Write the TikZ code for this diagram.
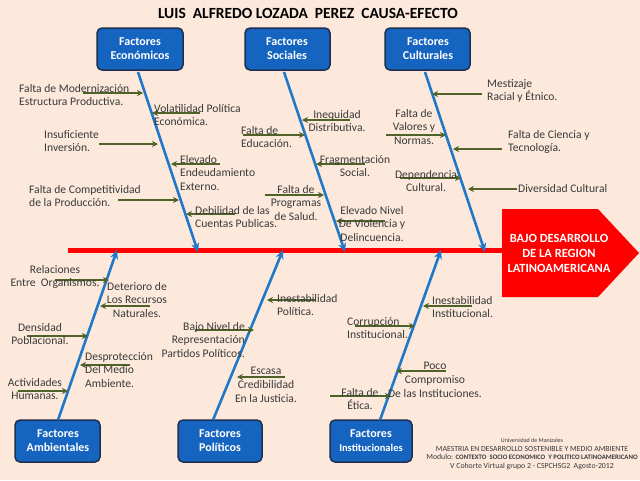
\documentclass[tikz,border=0pt]{standalone}
\usepackage{fontspec}
\setmainfont{Carlito}
\usetikzlibrary{arrows.meta}
\definecolor{bg}{HTML}{FCE9DC}
\definecolor{boxblue}{HTML}{1565C0}
\definecolor{boxedge}{HTML}{1F2F4F}
\definecolor{bone}{HTML}{1F78C8}
\definecolor{cause}{HTML}{4F6228}
\definecolor{txt}{HTML}{3A3A3A}
\tikzset{
  catbox/.style={draw=boxedge,line width=1.5pt,fill=boxblue,rounded corners=5pt},
  cattext/.style={text=white,font=\bfseries\fontsize{12}{14}\selectfont,align=center,inner sep=0},
  bonearrow/.style={draw=bone,line width=2.6pt,-{Stealth[length=9pt,width=8pt]}},
  causearrow/.style={draw=cause,line width=1.8pt,-{Stealth[length=6pt,width=6pt]}},
  lbl/.style={text=txt,font=\fontsize{11.6}{13.8}\selectfont,inner sep=0},
}
\newcommand{\causeline}[4]{\coordinate (#1s) at (#2,#4); \coordinate (#1e) at (#3,#4); \draw[causearrow] (#1s) -- (#1e);}
\begin{document}
\begin{tikzpicture}[x=1pt,y=-1pt]
\fill[bg] (0,0) rectangle (640,480);
\useasboundingbox (0,0) rectangle (640,480);
\node (title) at (308,13) {\bfseries\fontsize{15.5}{17}\selectfont LUIS\ \ ALFREDO LOZADA\ \ PEREZ\ \ CAUSA-EFECTO};
% spine
\coordinate (sp1) at (68,250);
\coordinate (sp2) at (502,250);
\draw[red,line width=5pt] (sp1) -- (sp2);
\fill[red] (502,209) -- (598,209) -- (639,253) -- (598,297) -- (502,297) -- cycle;
\node[text=white,font=\bfseries\fontsize{12.5}{15}\selectfont,align=center,inner sep=0] (effect) at (559,253) {BAJO DESARROLLO\\DE LA REGION\\LATINOAMERICANA};
% boxes
\draw[catbox] (97,28) rectangle (183,70); \node[cattext] (eco) at (140,49) {Factores\\Económicos};
\draw[catbox] (245,28) rectangle (330,70); \node[cattext] (soc) at (287,49) {Factores\\Sociales};
\draw[catbox] (385,28) rectangle (470,70); \node[cattext] (cul) at (428,49) {Factores\\Culturales};
\draw[catbox] (15,420) rectangle (100,462); \node[cattext] (amb) at (58,441) {Factores\\Ambientales};
\draw[catbox] (178,420) rectangle (262,462); \node[cattext] (pol) at (220,441) {Factores\\Políticos};
\draw[catbox] (330,420) rectangle (412,462); \node[cattext] (ins) at (371,441) {Factores\\{\fontsize{10.5}{12}\selectfont Institucionales}};
% bones
\coordinate (b1s) at (138,72); \coordinate (b1e) at (198,252);
\coordinate (b2s) at (284,72); \coordinate (b2e) at (345,252);
\coordinate (b3s) at (425,72); \coordinate (b3e) at (485,252);
\coordinate (b4s) at (58,420); \coordinate (b4e) at (117,250);
\coordinate (b5s) at (213,420); \coordinate (b5e) at (283,250);
\coordinate (b6s) at (380,420); \coordinate (b6e) at (441,250);
\foreach \i in {1,...,6} \draw[bonearrow] (b\i s) -- (b\i e);
% causes: economicos
\causeline{c1}{83}{143}{93}
\causeline{c2}{200}{152}{113}
\causeline{c3}{99}{158}{144}
\causeline{c4}{220}{171}{164}
\causeline{c5}{118}{179}{200}
\causeline{c6}{235}{186}{214}
\node[lbl,anchor=west,align=left] (t1) at (19,95) {Falta de Modernización\\Estructura Productiva.};
\node[lbl,anchor=west,align=left] (t2) at (154,115) {Volatilidad Política\\Económica.};
\node[lbl,anchor=west,align=left] (t3) at (44,141) {Insuficiente\\Inversión.};
\node[lbl,anchor=west,align=left] (t4) at (180,173) {Elevado\\Endeudamiento\\Externo.};
\node[lbl,anchor=west,align=left] (t5) at (29,196) {Falta de Competitividad\\de la Producción.};
\node[lbl,anchor=west,align=left] (t6) at (195,217) {Debilidad de las\\Cuentas Publicas.};
% sociales
\causeline{c7}{350}{302}{120}
\causeline{c8}{243}{305}{135}
\causeline{c9}{365}{316}{164}
\causeline{c10}{265}{324}{195}
\causeline{c11}{385}{336}{221}
\node[lbl,align=center] (t7) at (337,121) {Inequidad\\Distributiva.};
\node[lbl,anchor=west,align=left] (t8) at (241,137) {Falta de\\Educación.};
\node[lbl,align=center] (t9) at (355,166) {Fragmentación\\Social.};
\node[lbl,align=center] (t10) at (296,203) {Falta de\\Programas\\de Salud.};
\node[lbl,align=center] (t11) at (372,224) {Elevado Nivel\\De Violencia y\\Delincuencia.};
% culturales
\causeline{c12}{482}{432}{94}
\causeline{c13}{386}{446}{135}
\causeline{c14}{502}{453}{149}
\causeline{c15}{400}{461}{178}
\causeline{c16}{517}{468}{189}
\node[lbl,anchor=west,align=left] (t12) at (487,91) {Mestizaje\\Racial y Étnico.};
\node[lbl,align=center] (t13) at (414,127) {Falta de\\Valores y\\Normas.};
\node[lbl,anchor=west,align=left] (t14) at (508,142) {Falta de Ciencia y\\Tecnología.};
\node[lbl,align=center] (t15) at (426,181) {Dependencia\\Cultural.};
\node[lbl,anchor=west,align=left] (t16) at (518,189) {Diversidad Cultural};
% ambientales
\causeline{c17}{55}{109}{280}
\causeline{c18}{150}{100}{306}
\causeline{c19}{27}{88}{336}
\causeline{c20}{130}{80}{365}
\causeline{c21}{18}{68}{391}
\node[lbl,align=center] (t17) at (55,277) {Relaciones\\Entre\ \ Organismos.};
\node[lbl,align=center] (t18) at (137,300) {Deterioro de\\Los Recursos\\Naturales.};
\node[lbl,align=center] (t19) at (40,334) {Densidad\\Poblacional.};
\node[lbl,anchor=west,align=left] (t20) at (85,370) {Desprotección\\Del Medio\\Ambiente.};
\node[lbl,align=center] (t21) at (35,389) {Actividades\\Humanas.};
% politicos
\causeline{c22}{315}{267}{300}
\causeline{c23}{195}{254}{330}
\causeline{c24}{285}{237}{377}
\node[lbl,anchor=west,align=left] (t22) at (277,305) {Inestabilidad\\Política.};
\node[lbl,anchor=east,align=right] (t23) at (245,340) {Bajo Nivel de\\Representación\\Partidos Políticos.};
\node[lbl,align=center] (t24) at (266,385) {Escasa\\Credibilidad\\En la Justicia.};
% institucionales
\causeline{c25}{472}{423}{306}
\causeline{c26}{355}{415}{326}
\causeline{c27}{446}{396}{371}
\causeline{c28}{330}{391}{396}
\node[lbl,anchor=west,align=left] (t25) at (432,307) {Inestabilidad\\Institucional.};
\node[lbl,anchor=west,align=left] (t26) at (347,328) {Corrupción\\Institucional.};
\node[lbl,align=center] (t27) at (435,380) {Poco\\Compromiso\\De las Instituciones.};
\node[lbl,align=center] (t28) at (360,399) {Falta de\\Ética.};
% footer
\node[text=txt,align=center,font=\fontsize{7.8}{8.6}\selectfont,inner sep=0] (foot) at (532,454) {{\fontsize{6}{8}\selectfont Universidad de Manizales}\\MAESTRIA EN DESARROLLO SOSTENIBLE Y MEDIO AMBIENTE\\Modulo: {\bfseries\fontsize{6.8}{8.6}\selectfont CONTEXTO\ \ SOCIO ECONOMICO\ \ Y POLITICO LATINOAMERICANO}\\V Cohorte Virtual grupo 2 - CSPCHSG2\ \ Agosto-2012};
\end{tikzpicture}
\end{document}
